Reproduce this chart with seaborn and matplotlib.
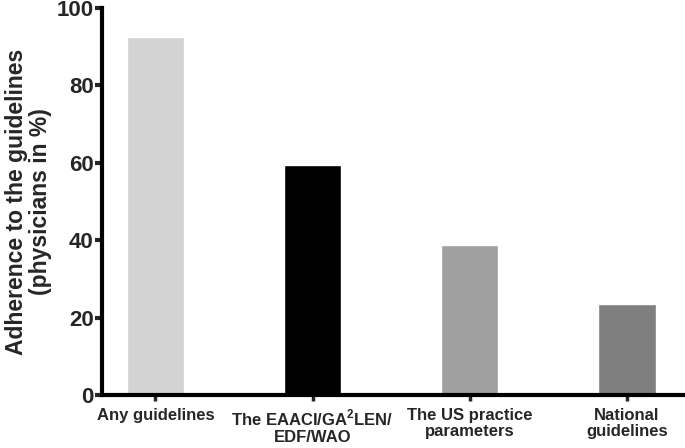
import matplotlib
matplotlib.use('Agg')
import matplotlib.pyplot as plt
import seaborn as sns
import pandas as pd

# datos
categorias = ['Any guidelines',
              'The EAACI/GA$^\\mathbf{2}$LEN/\nEDF/WAO',
              'The US practice\nparameters',
              'National\nguidelines']
valores = [92.5, 59.4, 38.7, 23.4]
colores = ['#d3d3d3', '#000000', '#a0a0a0', '#7f7f7f']

df = pd.DataFrame({'cat': categorias, 'val': valores})

sns.set_style('ticks')
plt.rcParams['font.family'] = ['Liberation Sans', 'DejaVu Sans']
plt.rcParams['font.weight'] = 'bold'
plt.rcParams['mathtext.fontset'] = 'custom'
plt.rcParams['mathtext.bf'] = 'Liberation Sans:bold'
plt.rcParams['mathtext.rm'] = 'Liberation Sans:bold'

fig = plt.figure(figsize=(6.85, 4.48), dpi=100)
ax = fig.add_axes([0.149, 0.118, 0.851, 0.865])

sns.barplot(data=df, x='cat', y='val', hue='cat', palette=colores,
            legend=False, width=0.365, saturation=1, ax=ax)

ax.set_ylim(0, 100)
ax.set_xlim(-0.34, 3.37)
ax.set_yticks([0, 20, 40, 60, 80, 100])
ax.set_xlabel('')
ax.set_ylabel('Adherence to the guidelines\n(physicians in %)',
              fontsize=16.5, fontweight='bold', labelpad=3, linespacing=1.1)

for s in ['top', 'right']:
    ax.spines[s].set_visible(False)
for s in ['left', 'bottom']:
    ax.spines[s].set_linewidth(3)
    ax.spines[s].set_color('black')

ax.tick_params(axis='y', labelsize=16, width=3, length=5, pad=1)
ax.tick_params(axis='x', labelsize=12, width=2.5, length=4, pad=5)
for lab in ax.get_xticklabels() + ax.get_yticklabels():
    lab.set_fontweight('bold')
    lab.set_linespacing(1.15)

fig.savefig('out.png', dpi=100)
